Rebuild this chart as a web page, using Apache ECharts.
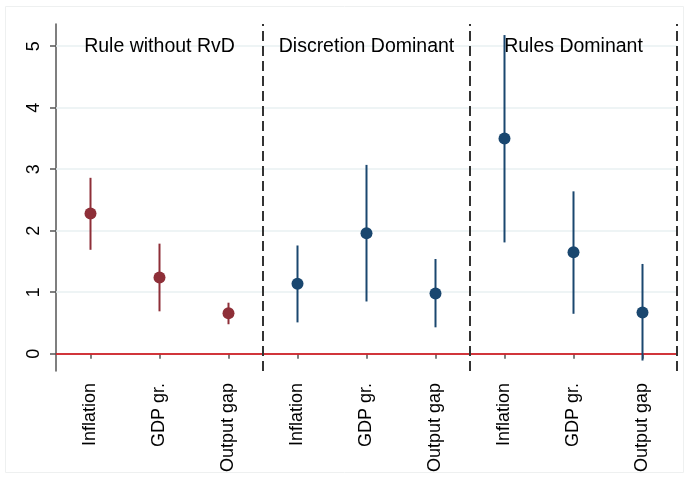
<!DOCTYPE html>
<html>
<head>
<meta charset="utf-8">
<script src="https://cdn.jsdelivr.net/npm/echarts@6/dist/echarts.min.js"></script>
<style>
html,body{margin:0;padding:0;background:#fff;}
#chart{width:689px;height:477px;}
</style>
</head>
<body>
<div id="chart"></div>
<script>
// ---- data ----
const categories = ['Inflation', 'GDP gr.', 'Output gap'];
const panels = ['Rule without RvD', 'Discretion Dominant', 'Rules Dominant'];
const ruleWithoutRvD = { est: [2.28, 1.24, 0.66], lo: [1.69, 0.69, 0.48], hi: [2.86, 1.79, 0.83] };
const discretionDominant = { est: [1.14, 1.96, 0.98], lo: [0.51, 0.85, 0.43], hi: [1.76, 3.07, 1.54] };
const rulesDominant = { est: [3.50, 1.65, 0.67], lo: [1.81, 0.65, -0.11], hi: [5.18, 2.64, 1.46] };
const yTicks = [0, 1, 2, 3, 4, 5];

// ---- build ----
const groups = [ruleWithoutRvD, discretionDominant, rulesDominant];
const groupColors = ['#8e2f38', '#1a476f', '#1a476f'];
const xTicks = [];
const xLabels = {};
groups.forEach((g, gi) => categories.forEach((c, ci) => {
  const x = gi * 3 + ci + 1;
  xTicks.push(x);
  xLabels[x] = c;
}));
const dividers = groups.map((g, gi) => gi * 3 + 3.5);
const font = "'Liberation Sans', Arial, sans-serif";

const series = [];

// grid lines, zero line, dividers (drawn first, lowest)
series.push({
  type: 'line',
  data: [],
  silent: true,
  z: 1,
  markLine: {
    symbol: 'none',
    silent: true,
    z: 1,
    label: { show: false },
    animation: false,
    data: [
      ...yTicks.filter(v => v !== 0).map(v => ({ yAxis: v, lineStyle: { color: '#e9f1f2', width: 1.5, type: 'solid' } })),
      { yAxis: 0, lineStyle: { color: '#ec1c24', width: 1.5, type: 'solid' } },
      ...dividers.map(v => ({ xAxis: v, lineStyle: { color: '#333333', width: 2, type: [10, 5] } }))
    ]
  }
});

groups.forEach((g, gi) => {
  const pts = g.est.map((v, ci) => [gi * 3 + ci + 1, v, g.lo[ci], g.hi[ci]]);
  series.push({
    type: 'custom',
    z: 10,
    data: pts,
    renderItem: function (params, api) {
      const x = api.value(0);
      const p1 = api.coord([x, api.value(2)]);
      const p2 = api.coord([x, api.value(3)]);
      return {
        type: 'line',
        shape: { x1: p1[0], y1: p1[1], x2: p2[0], y2: p2[1] },
        style: { stroke: groupColors[gi], lineWidth: 2 }
      };
    },
    encode: { x: 0, y: [2, 3] },
    clip: false,
    silent: true
  });
  series.push({
    type: 'scatter',
    z: 11,
    symbolSize: 12,
    itemStyle: { color: groupColors[gi], opacity: 1 },
    data: pts.map(p => [p[0], p[1]]),
    silent: true
  });
});

// panel titles
series.push({
  type: 'scatter',
  symbolSize: 1,
  z: 12,
  itemStyle: { color: 'rgba(0,0,0,0)', opacity: 1 },
  data: panels.map((p, gi) => ({ value: [gi * 3 + 2, 5], name: p })),
  label: {
    show: true,
    position: 'inside',
    formatter: p => p.name,
    color: '#000',
    opacity: 1,
    textBorderWidth: 0,
    textBorderColor: 'transparent',
    fontFamily: font,
    fontSize: 19.5
  },
  silent: true
});

const chart = echarts.init(document.getElementById('chart'), null, { renderer: 'canvas' });
chart.setOption({
  animation: false,
  backgroundColor: '#fff',
  graphic: [{
    type: 'rect',
    shape: { x: 5.5, y: 6.5, width: 678, height: 466 },
    style: { fill: 'none', stroke: '#eef0f0', lineWidth: 1 },
    z: 0
  }],
  grid: { left: 56, top: 24, right: 12, bottom: 106 },
  xAxis: {
    type: 'value',
    min: 0.5,
    max: 9.5,
    axisLine: { show: true, lineStyle: { color: '#555', width: 1.5 } },
    axisTick: { show: true, customValues: xTicks, length: 5, lineStyle: { color: '#555', width: 1.5 } },
    axisLabel: {
      customValues: xTicks,
      rotate: 90,
      margin: 12,
      color: '#000',
      fontFamily: font,
      fontSize: 18,
      formatter: v => xLabels[Math.round(v)] || ''
    },
    splitLine: { show: false }
  },
  yAxis: {
    type: 'value',
    min: -0.28,
    max: 5.36,
    axisLine: { show: true, lineStyle: { color: '#555', width: 1.5 } },
    axisTick: { show: true, customValues: yTicks, length: 6, lineStyle: { color: '#555', width: 1.5 } },
    axisLabel: {
      customValues: yTicks,
      rotate: 90,
      margin: 13,
      color: '#000',
      fontFamily: font,
      fontSize: 18,
      formatter: v => String(Math.round(v))
    },
    splitLine: { show: false }
  },
  series: series
});
</script>
</body>
</html>
